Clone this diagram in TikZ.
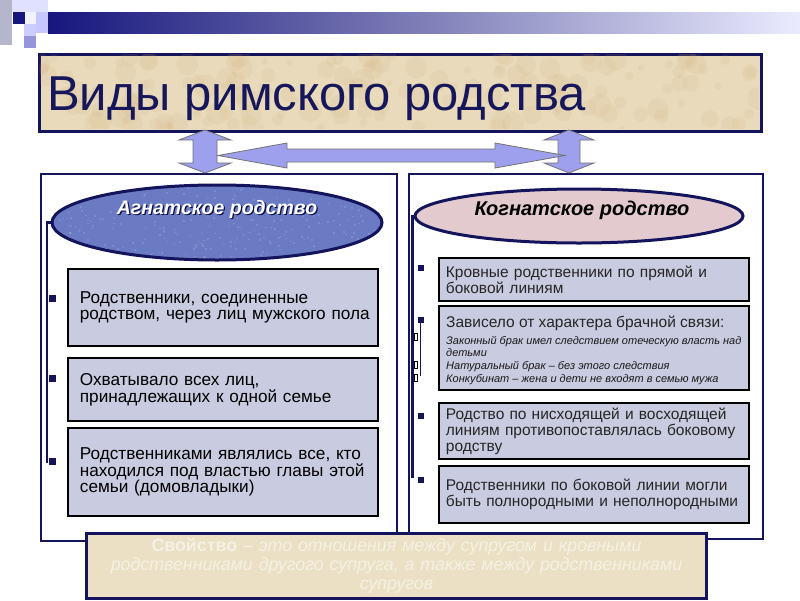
\documentclass[tikz,border=0pt]{standalone}
\usepackage{fontspec}
\setmainfont{Liberation Sans}
\usetikzlibrary{shapes.geometric,calc}
\definecolor{navy}{HTML}{14145C}
\definecolor{barnavy}{HTML}{16167E}
\definecolor{boxfill}{HTML}{C9CBE0}
\definecolor{parch}{HTML}{E8DABB}
\definecolor{ellblue}{HTML}{6A7BC4}
\definecolor{ellpink}{HTML}{E3CACF}
\definecolor{arrowfill}{HTML}{9EA0EE}
\definecolor{beige}{HTML}{EBE0C3}
\definecolor{bottomtxt}{HTML}{F6F1E6}
\definecolor{titletxt}{HTML}{16165A}
\begin{document}
\begin{tikzpicture}[x=1pt,y=-1pt,
  panel/.style={draw=navy, line width=2pt, fill=white},
  itembox/.style={draw=black, line width=1.8pt, fill=boxfill, anchor=north west, inner ysep=0pt, align=left},
  leftbox/.style={itembox, minimum width=310pt, inner xsep=12pt, text width=286pt, font=\fontsize{17.2}{16}\selectfont},
  rightbox/.style={itembox, minimum width=310pt, inner xsep=7pt, text width=296pt, text=black!85, font=\fontsize{15.5}{16}\selectfont},
  bulletsq/.style={fill=navy, minimum size=7pt, inner sep=0pt},
  hollow/.style={draw=black, fill=white, line width=0.6pt, minimum width=3pt, minimum height=7pt, inner sep=0pt},
  bline/.style={navy, line width=2.5pt},
  barrow/.style={fill=arrowfill, draw=black!55, line width=0.8pt, line join=miter},
  smallit/.style={anchor=base west, inner sep=0pt, font=\fontsize{11}{13}\selectfont\itshape, text=black!90}
]
\useasboundingbox (0,0) rectangle (800,600);
\fill[white] (0,0) rectangle (800,600);
% header decoration
\shade[left color=barnavy, right color=white!92!blue, middle color=barnavy!55!white] (48,12) rectangle (800,33);
\fill[white!85!blue!60!gray] (0,0) rectangle (12,45);
\fill[white!88!blue] (12,0) rectangle (48,12);
\fill[barnavy] (13,12) rectangle (25,24);
\fill[white!95!blue] (25,12) rectangle (36,24);
\fill[white!78!blue] (36,12) rectangle (48,33);
\fill[white!80!blue] (24,24) rectangle (36,36);
\fill[white!62!blue!70!gray] (24,36) rectangle (36,48);
% title
\node[draw=navy, line width=3pt, fill=parch, anchor=north west, minimum width=722pt, minimum height=77pt, inner sep=0pt] (title) at (38,53) {};
\begin{scope}
\clip (39.5,54.5) rectangle (758.5,128.5);
\pgfmathsetseed{7}
\foreach \i in {1,...,160}{
  \pgfmathsetmacro\xx{40+720*rnd}
  \pgfmathsetmacro\yy{54+76*rnd}
  \pgfmathsetmacro\rr{3+9*rnd}
  \fill[brown!60!parch, opacity=0.10] (\xx,\yy) circle (\rr);
}
\end{scope}
\node[anchor=base west, inner sep=0pt, text=titletxt, font=\fontsize{49}{49}\selectfont] (ttl) at (47,110) {Виды римского родства};
% panels
\node[panel, anchor=north west, minimum width=356pt, minimum height=367pt, inner sep=0pt] (pL) at (40,173) {};
\node[panel, anchor=north west, minimum width=354pt, minimum height=365pt, inner sep=0pt] (pR) at (408,173) {};
% block arrows
\coordinate (vL) at (205,130);
\coordinate (vR) at (569,130);
\coordinate (hL) at (218,155.5);
\draw[barrow] (vL) -- ++(26,10) -- ++(-14,0) -- ++(0,23) -- ++(14,0) -- ++(-26,10) -- ++(-26,-10) -- ++(14,0) -- ++(0,-23) -- ++(-14,0) -- cycle;
\draw[barrow] (vR) -- ++(25,10) -- ++(-14,0) -- ++(0,23) -- ++(14,0) -- ++(-25,10) -- ++(-25,-10) -- ++(14,0) -- ++(0,-23) -- ++(-14,0) -- cycle;
\draw[barrow] (hL) -- ++(69,-12.5) -- ++(0,6) -- ++(208,0) -- ++(0,-6) -- ++(70,12.5) -- ++(-70,12.5) -- ++(0,-6) -- ++(-208,0) -- ++(0,6) -- cycle;
% left ellipse
\node[ellipse, draw=navy, line width=3pt, fill=ellblue, minimum width=330pt, minimum height=75pt, inner sep=0pt] (ellL) at (217,222.5) {};
\begin{scope}
\clip (217,222.5) ellipse (163.5 and 36);
\pgfmathsetseed{3}
\foreach \i in {1,...,260}{
  \pgfmathsetmacro\xx{52+330*rnd}
  \pgfmathsetmacro\yy{186+74*rnd}
  \fill[white, opacity=0.12] (\xx,\yy) rectangle ++(2,1.5);
}
\end{scope}
\node[inner sep=0pt, text=white, font=\fontsize{19.5}{20}\selectfont\bfseries\itshape] (ellLt) at (217,210) {\rlap{\kern1.3pt\raisebox{-1.3pt}{\color{navy!80!black}Агнатское родство}}Агнатское родство};
% right ellipse
\node[ellipse, draw=navy, line width=3pt, fill=ellpink, minimum width=328pt, minimum height=54pt, inner sep=0pt] (ellR) at (579,216) {};
\node[inner sep=0pt, text=black, font=\fontsize{20}{20}\selectfont\bfseries\itshape] (ellRt) at (582,210) {Когнатское родство};
% left bullet line
\coordinate (lTop) at (47,222.5);
\coordinate (lBot) at (47,463);
\draw[bline] (lBot) -- (lTop) -- (ellL.west);
% left boxes
\node[leftbox, minimum height=77pt] (L1) at (67,268) {Родственники, соединенные\\\mbox{родством, через лиц мужского пола}};
\node[leftbox, minimum height=63pt] (L2) at (67,357) {Охватывало всех лиц,\\принадлежащих к одной семье};
\node[leftbox, minimum height=88pt] (L3) at (67,427) {Родственниками являлись все, кто\\находился под властью главы этой\\семьи (домовладыки)};
\node[bulletsq] (bL1) at (52,298) {};
\node[bulletsq] (bL2) at (52,378) {};
\node[bulletsq] (bL3) at (52,461) {};
% right bullet line
\coordinate (rTop) at (412.5,216);
\coordinate (rBot) at (412.5,478);
\draw[bline] (rBot) -- (rTop) -- (ellR.west);
\draw[navy, line width=0.8pt] (420,323) -- (420,376);
% right boxes
\node[rightbox, minimum height=43pt] (R1) at (438,257) {Кровные родственники по прямой и\\боковой линиям};
\node[itembox, minimum width=310pt, minimum height=84pt] (R2) at (438,305) {};
\node[anchor=base west, inner sep=0pt, text=black!85, font=\fontsize{15.5}{16}\selectfont] (R2a) at (446,327) {Зависело от характера брачной связи:};
\node[smallit] (R2b) at (446,344) {Законный брак имел следствием отеческую власть над};
\node[smallit] (R2c) at (446,356) {детьми};
\node[smallit] (R2d) at (446,369) {Натуральный брак – без этого следствия};
\node[smallit] (R2e) at (446,382) {Конкубинат – жена и дети не входят в семью мужа};
\node[rightbox, minimum height=56pt] (R3) at (438,402) {Родство по нисходящей и восходящей\\линиям противопоставлялась боковому\\родству};
\node[rightbox, minimum height=57pt] (R4) at (438,465) {Родственники по боковой линии могли\\быть полнородными и неполнородными};
\node[bulletsq, minimum size=6pt] (bR1) at (421,268) {};
\node[bulletsq, minimum size=6pt] (bR2) at (421,320) {};
\node[bulletsq, minimum size=6pt] (bR3) at (421,416) {};
\node[bulletsq, minimum size=6pt] (bR4) at (421,480) {};
\node[hollow] (hR1) at (416,337) {};
\node[hollow] (hR2) at (416,365) {};
\node[hollow] (hR3) at (416,378) {};
% bottom box
\node[draw=navy, line width=3pt, fill=beige, anchor=north west, minimum width=620pt, minimum height=65pt, inner sep=0pt, text width=610pt, align=center, text=bottomtxt, font=\fontsize{17.8}{19}\selectfont] (svo) at (85,532) {{\bfseries Свойство} {\itshape – это отношения между супругом и кровными}\\{\itshape родственниками другого супруга, а также между родственниками}\\{\itshape супругов}};
\end{tikzpicture}
\end{document}
